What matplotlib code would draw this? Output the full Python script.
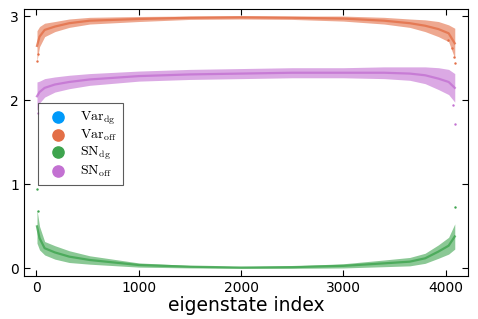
import matplotlib
matplotlib.use("Agg")
import matplotlib.pyplot as plt

# values: anchor index, centre of the point cloud, half-width of the cloud
idx = [5, 30, 80, 180, 320, 520, 1000, 1500, 2000, 2500, 3000, 3400, 3650, 3800, 3930, 4030, 4090]

var_off_mid = [2.65, 2.76, 2.84, 2.88, 2.92, 2.95, 2.97, 2.985, 2.99, 2.985, 2.975, 2.95, 2.92, 2.89, 2.85, 2.80, 2.68]
var_off_hw = [0.18, 0.12, 0.08, 0.06, 0.05, 0.04, 0.03, 0.02, 0.02, 0.02, 0.03, 0.04, 0.05, 0.07, 0.09, 0.10, 0.18]

sn_off_mid = [2.05, 2.10, 2.15, 2.19, 2.22, 2.25, 2.29, 2.31, 2.32, 2.33, 2.33, 2.33, 2.32, 2.30, 2.26, 2.22, 2.15]
sn_off_hw = [0.17, 0.13, 0.11, 0.09, 0.08, 0.07, 0.06, 0.06, 0.06, 0.06, 0.06, 0.07, 0.08, 0.10, 0.13, 0.15, 0.17]

sn_dg_mid = [0.50, 0.36, 0.24, 0.19, 0.14, 0.10, 0.04, 0.02, 0.01, 0.015, 0.03, 0.06, 0.08, 0.12, 0.20, 0.27, 0.38]
sn_dg_hw = [0.20, 0.14, 0.08, 0.08, 0.07, 0.05, 0.025, 0.015, 0.01, 0.015, 0.025, 0.04, 0.05, 0.06, 0.08, 0.10, 0.15]

# isolated points standing out of the clouds
var_off_out_x = [8, 12, 4020, 4060, 4085, 4092]
var_off_out_y = [2.47, 2.55, 2.72, 2.62, 2.52, 2.45]
sn_off_out_x = [15, 4070, 4088]
sn_off_out_y = [1.85, 1.95, 1.72]
sn_dg_out_x = [4, 10, 4088]
sn_dg_out_y = [0.95, 0.68, 0.73]

# the Var_dg series shows no visible points in the reference
var_dg_x = []
var_dg_y = []

labels = [r"$\mathrm{Var}_{\mathrm{dg}}$", r"$\mathrm{Var}_{\mathrm{off}}$",
          r"$\mathrm{SN}_{\mathrm{dg}}$", r"$\mathrm{SN}_{\mathrm{off}}$"]
colors = ["#009AFA", "#E36F47", "#3EA44E", "#C371D2"]

plt.rcParams["mathtext.fontset"] = "cm"

fig = plt.figure(figsize=(4.78, 3.19), dpi=100)
ax = fig.add_axes([0.050, 0.135, 0.929, 0.837])

ax.scatter(var_dg_x, var_dg_y, s=2, color=colors[0])
series = [(var_off_mid, var_off_hw, var_off_out_x, var_off_out_y, colors[1]),
          (sn_dg_mid, sn_dg_hw, sn_dg_out_x, sn_dg_out_y, colors[2]),
          (sn_off_mid, sn_off_hw, sn_off_out_x, sn_off_out_y, colors[3])]
for mid, hw, ox, oy, c in series:
    lo = [m - h for m, h in zip(mid, hw)]
    hi = [m + h for m, h in zip(mid, hw)]
    ax.fill_between(idx, lo, hi, color=c, alpha=0.6, linewidth=0)
    ax.plot(idx, mid, color=c, lw=1.6, alpha=0.8)
    ax.scatter(ox, oy, s=3, color=c, linewidths=0)

# legend handles
for lab, c in zip(labels, colors):
    ax.scatter([], [], s=65, color=c, label=lab)

leg = ax.legend(loc="upper left", bbox_to_anchor=(0.031, 0.648), fontsize=10,
                frameon=True, fancybox=False, borderpad=0.45, handletextpad=0.6,
                labelspacing=0.1, handlelength=2.0, borderaxespad=0)
leg.get_frame().set_edgecolor("#333333")
leg.get_frame().set_linewidth(0.8)

ax.set_xlim(-123, 4219)
ax.set_ylim(-0.09, 3.09)
ax.set_xticks([0, 1000, 2000, 3000, 4000])
ax.set_yticks([0, 1, 2, 3])
ax.tick_params(direction="in", top=True, right=True, labelsize=10, length=4, width=0.8)
for sp in ax.spines.values():
    sp.set_linewidth(0.8)
ax.set_xlabel("eigenstate index", fontsize=13.5, labelpad=1)

fig.savefig("out.png", dpi=100)
